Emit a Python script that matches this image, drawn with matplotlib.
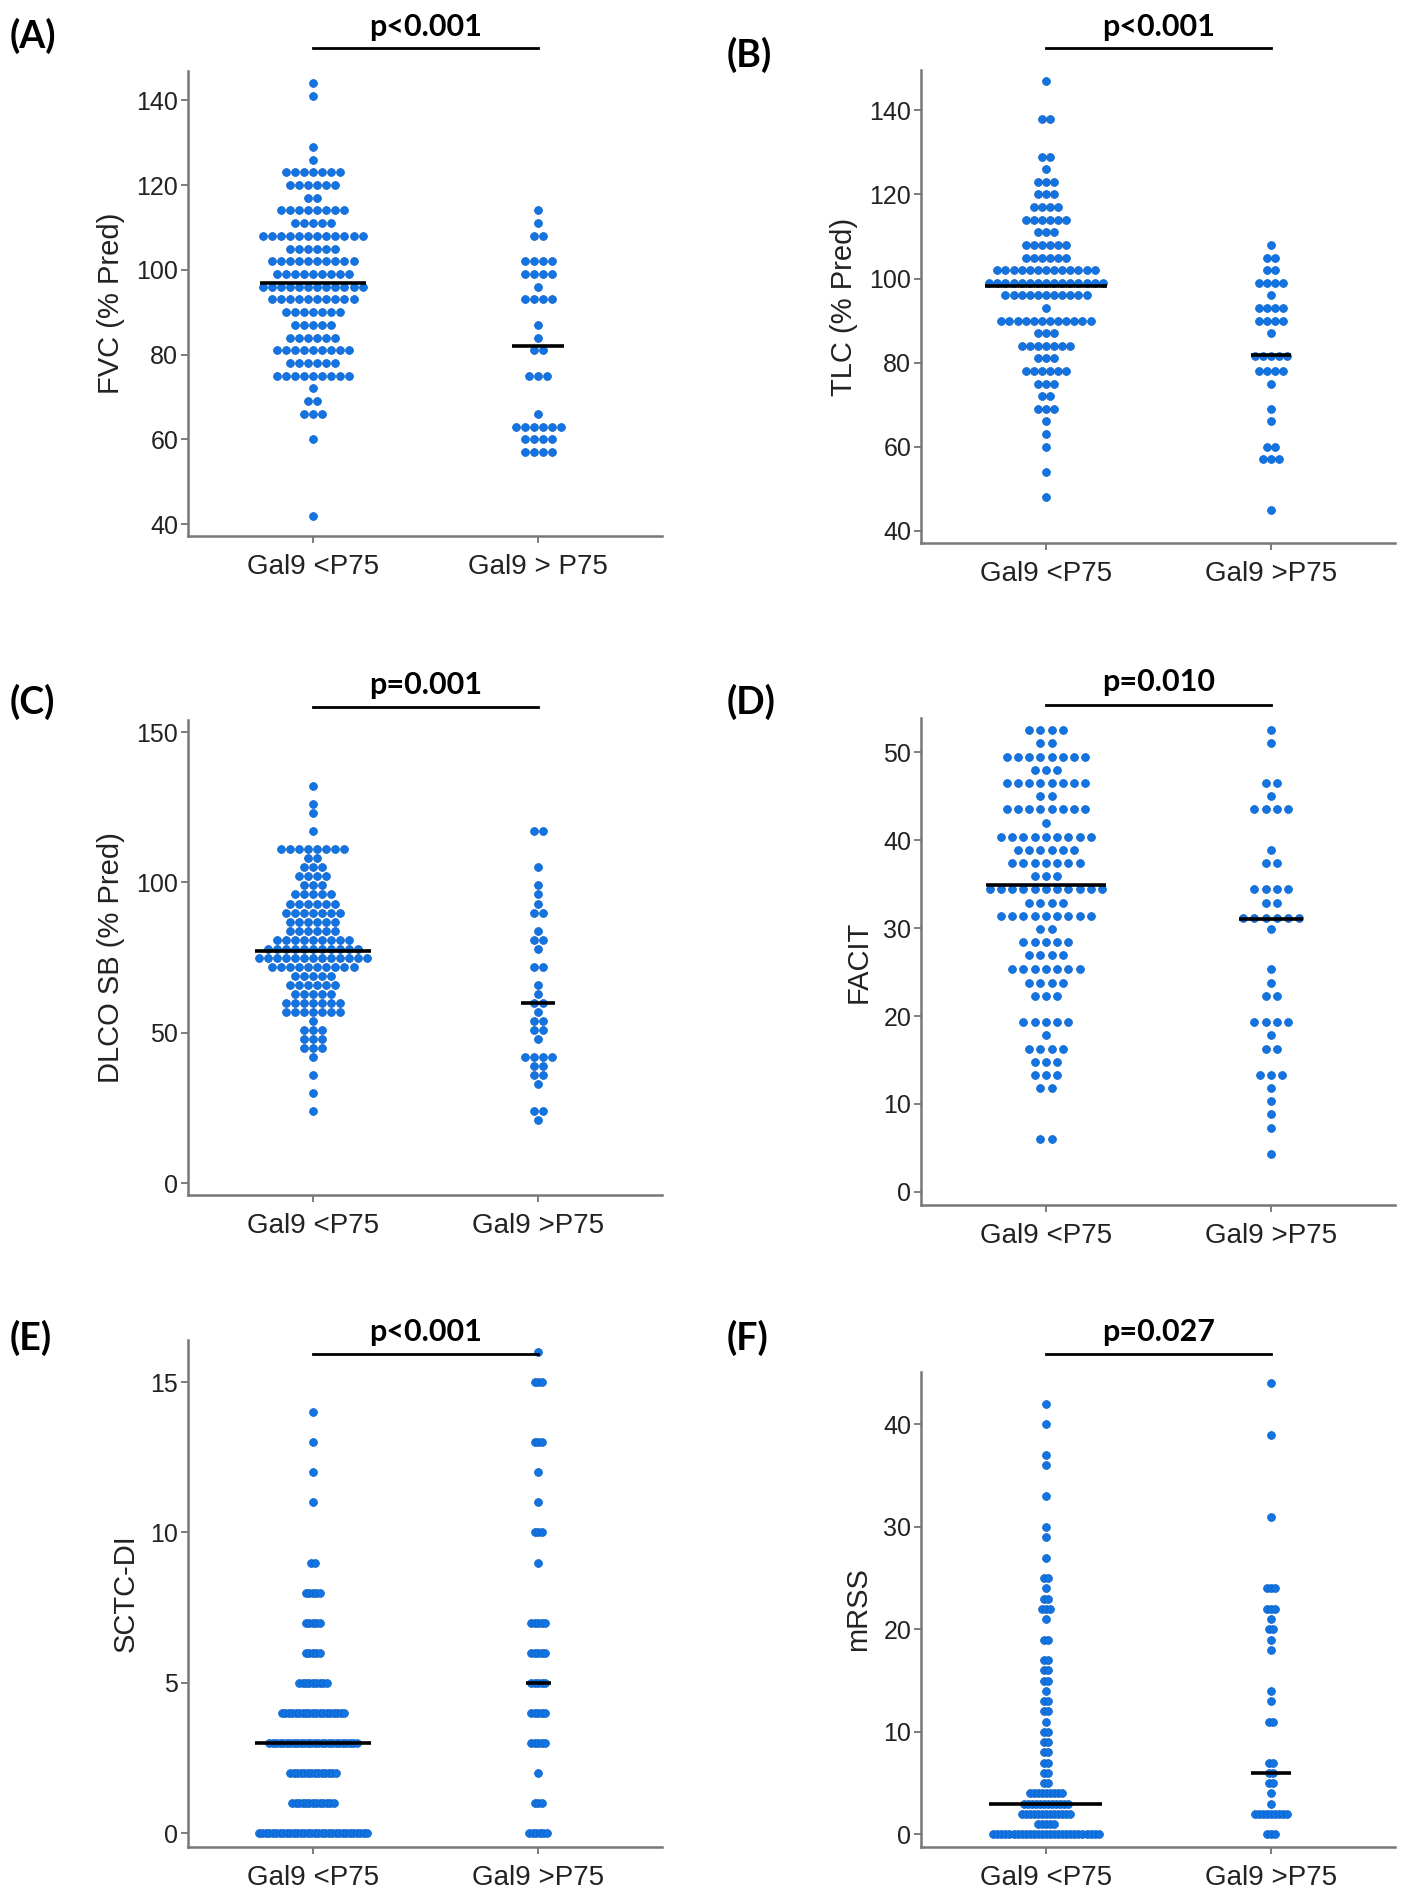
import numpy as np
import matplotlib.pyplot as plt
from matplotlib.transforms import blended_transform_factory

plt.rcParams['font.family'] = ['Liberation Sans', 'DejaVu Sans']

groups_a = ['Gal9 <P75', 'Gal9 > P75']
groups = ['Gal9 <P75', 'Gal9 >P75']

# (A) FVC: row value -> number of patients
fvc_lo_vals = [144, 141, 129, 126, 123, 120, 117, 114, 111, 108, 105, 102, 99, 96, 93, 90, 87, 84, 81, 78, 75, 72, 69, 66, 60, 42]
fvc_lo_cnts = [1, 1, 1, 1, 7, 6, 2, 8, 5, 12, 6, 10, 9, 12, 10, 7, 5, 6, 9, 6, 9, 1, 2, 3, 1, 1]
fvc_hi_vals = [114, 111, 108, 102, 99, 96, 93, 87, 84, 81, 75, 66, 63, 60, 57]
fvc_hi_cnts = [1, 1, 2, 4, 4, 1, 4, 1, 1, 2, 3, 1, 6, 4, 4]
fvc_median = [97, 82]

# (B) TLC
tlc_lo_vals = [147, 138, 129, 126, 123, 120, 117, 114, 111, 108, 105, 102, 99, 96, 93, 90, 87, 84, 81, 78, 75, 72, 69, 66, 63, 60, 54, 48]
tlc_lo_cnts = [1, 2, 2, 1, 3, 3, 4, 6, 3, 6, 6, 13, 15, 11, 1, 12, 3, 7, 3, 6, 3, 2, 3, 1, 1, 1, 1, 1]
tlc_hi_vals = [108, 105, 102, 99, 96, 93, 90, 87, 81.5, 78, 75, 69, 66, 60, 57, 45]
tlc_hi_cnts = [1, 2, 2, 4, 1, 4, 4, 1, 5, 4, 1, 1, 1, 2, 3, 1]
tlc_median = [98.3, 81.8]

# (C) DLCO SB
dlco_lo_vals = [132, 126, 123, 117, 111, 108, 105, 102, 99, 96, 93, 90, 87, 84, 81, 78, 75, 72, 69, 66, 63, 60, 57, 54, 51, 48, 45, 42, 36, 30, 24]
dlco_lo_cnts = [1, 1, 1, 1, 8, 2, 3, 4, 3, 5, 6, 7, 6, 6, 9, 11, 13, 10, 5, 6, 5, 7, 7, 1, 3, 3, 3, 1, 1, 1, 1]
dlco_hi_vals = [117, 105, 99, 96, 93, 90, 84, 81, 78, 72, 66, 63, 60, 57, 54, 51, 48, 42, 39, 36, 33, 24, 21]
dlco_hi_cnts = [2, 1, 1, 1, 1, 2, 1, 2, 1, 2, 1, 1, 2, 1, 2, 2, 1, 4, 2, 2, 1, 2, 1]
dlco_median = [77.3, 59.8]

# (D) FACIT
facit_lo_vals = [52.5, 51.0, 49.5, 48.0, 46.5, 45.0, 43.5, 41.9, 40.4, 38.9, 37.4, 35.9, 34.5, 32.9, 31.4, 29.9, 28.4, 26.9, 25.4, 23.8, 22.3, 19.3, 17.8, 16.3, 14.8, 13.3, 11.8, 6.0]
facit_lo_cnts = [4, 2, 8, 3, 8, 2, 8, 1, 9, 6, 7, 3, 11, 4, 9, 2, 5, 4, 7, 4, 3, 5, 1, 4, 3, 3, 2, 2]
facit_hi_vals = [52.5, 51.0, 46.5, 45.0, 43.5, 38.9, 37.4, 34.4, 32.9, 31.2, 29.9, 25.4, 23.8, 22.3, 19.3, 17.8, 16.3, 13.3, 11.8, 10.3, 8.8, 7.3, 4.3]
facit_hi_cnts = [1, 1, 2, 1, 4, 1, 2, 4, 2, 6, 1, 1, 1, 2, 4, 1, 2, 3, 1, 1, 1, 1, 1]
facit_median = [34.9, 31.0]

# (E) SCTC-DI
sctc_lo_vals = [0, 1, 2, 3, 4, 5, 6, 7, 8, 9, 11, 12, 13, 14]
sctc_lo_cnts = [32, 13, 14, 26, 19, 9, 5, 5, 5, 2, 1, 1, 1, 1]
sctc_hi_vals = [0, 1, 2, 3, 4, 5, 6, 7, 9, 10, 11, 12, 13, 15, 16]
sctc_hi_cnts = [6, 3, 1, 5, 5, 5, 5, 5, 1, 3, 1, 1, 3, 3, 1]
sctc_median = [3, 5]

# (F) mRSS
mrss_lo_vals = [0, 1, 2, 3, 4, 5, 6, 7, 8, 9, 10, 11, 12, 13, 14, 15, 16, 17, 19, 21, 22, 23, 24, 25, 27, 29, 30, 33, 36, 37, 40, 42]
mrss_lo_cnts = [27, 5, 13, 12, 9, 2, 2, 2, 2, 2, 2, 1, 2, 2, 1, 2, 2, 2, 2, 1, 3, 2, 1, 2, 1, 1, 1, 1, 1, 1, 1, 1]
mrss_hi_vals = [0, 2, 3, 4, 5, 6, 7, 11, 13, 14, 18, 19, 20, 21, 22, 24, 31, 39, 44]
mrss_hi_cnts = [3, 9, 1, 1, 2, 2, 2, 2, 1, 1, 1, 1, 2, 1, 3, 3, 1, 1, 1]
mrss_median = [3, 6]

panels = [
    ('(A)', 'FVC (% Pred)', 'p<0.001', groups_a, [fvc_lo_vals, fvc_hi_vals], [fvc_lo_cnts, fvc_hi_cnts], fvc_median),
    ('(B)', 'TLC (% Pred)', 'p<0.001', groups, [tlc_lo_vals, tlc_hi_vals], [tlc_lo_cnts, tlc_hi_cnts], tlc_median),
    ('(C)', 'DLCO SB (% Pred)', 'p=0.001', groups, [dlco_lo_vals, dlco_hi_vals], [dlco_lo_cnts, dlco_hi_cnts], dlco_median),
    ('(D)', 'FACIT', 'p=0.010', groups, [facit_lo_vals, facit_hi_vals], [facit_lo_cnts, facit_hi_cnts], facit_median),
    ('(E)', 'SCTC-DI', 'p<0.001', groups, [sctc_lo_vals, sctc_hi_vals], [sctc_lo_cnts, sctc_hi_cnts], sctc_median),
    ('(F)', 'mRSS', 'p=0.027', groups, [mrss_lo_vals, mrss_hi_vals], [mrss_lo_cnts, mrss_hi_cnts], mrss_median),
]

# layout in pixels: left, top, bottom of each axes box
W, H = 1417, 1893
boxes = [(188, 71, 536), (921, 70, 543),
         (188, 720, 1195), (921, 718, 1205),
         (188, 1340, 1847), (921, 1372, 1847)]
ylims = [(37.2, 146.9), (37.1, 149.6), (-3.9, 154), (-1.5, 53.9), (-0.46, 16.4), (-1.23, 45.1)]
yticks = [np.arange(40, 141, 20), np.arange(40, 141, 20), [0, 50, 100, 150],
          np.arange(0, 51, 10), [0, 5, 10, 15], np.arange(0, 41, 10)]
spacing = [0.040, 0.036, 0.040, 0.050, 0.0155, 0.018]
label_xy = [(10, 36), (727, 55), (10, 702), (727, 702), (10, 1338), (727, 1338)]
ptext_y = [27, 27, 685, 682, 1332, 1332]
bracket_y = [48, 48, 707, 705, 1354, 1354]

axw = 474
xlim = (0.445, 2.55)
dot_color = '#1274e2'
dot_r = 0.017

fig = plt.figure(figsize=(W / 100, H / 100), dpi=100)

for i, (lab, ylab, ptxt, xlabs, vals, cnts, meds) in enumerate(panels):
    left, top, bottom = boxes[i]
    ax = fig.add_axes([left / W, 1 - bottom / H, axw / W, (bottom - top) / H])
    sp = spacing[i]
    for g in range(2):
        c = g + 1
        widest = 0
        for v, n in zip(vals[g], cnts[g]):
            xs = c + (np.arange(n) - (n - 1) / 2) * sp
            ax.scatter(xs, [v] * n, s=32, color=dot_color, edgecolors='#0b5fc4',
                       linewidths=0.5, zorder=2)
            widest = max(widest, n)
        hw = (widest - 1) / 2 * sp + dot_r
        ax.hlines(meds[g], c - hw, c + hw, color='black', lw=2.6, zorder=3)

    ax.set_xlim(*xlim)
    ax.set_ylim(*ylims[i])
    ax.set_xticks([1, 2])
    ax.set_xticklabels(xlabs, fontsize=20, color='#222222')
    ax.set_yticks(yticks[i])
    ax.tick_params(axis='y', labelsize=18, labelcolor='#222222', color='#666666',
                   length=5, width=1.2, pad=2)
    ax.tick_params(axis='x', color='#666666', length=5, width=1.2, pad=8)
    ax.set_ylabel(ylab, fontsize=21, color='#222222', labelpad=8)
    for s in ['top', 'right']:
        ax.spines[s].set_visible(False)
    for s in ['left', 'bottom']:
        ax.spines[s].set_color('#777777')
        ax.spines[s].set_linewidth(1.8)

    # p-value bracket between the two group centres
    tr = blended_transform_factory(ax.transData, fig.transFigure)
    ax.plot([1, 2], [1 - bracket_y[i] / H] * 2, color='black', lw=2, transform=tr,
            clip_on=False)
    ax.text(1.5, 1 - ptext_y[i] / H, ptxt, transform=tr, ha='center', va='center',
            fontsize=22, fontweight='bold', family='Lato')

    fig.text(label_xy[i][0] / W, 1 - label_xy[i][1] / H, lab, ha='left', va='center',
             fontsize=27, fontweight='bold', family='Lato')

fig.savefig('out.png', dpi=100, facecolor='white')
